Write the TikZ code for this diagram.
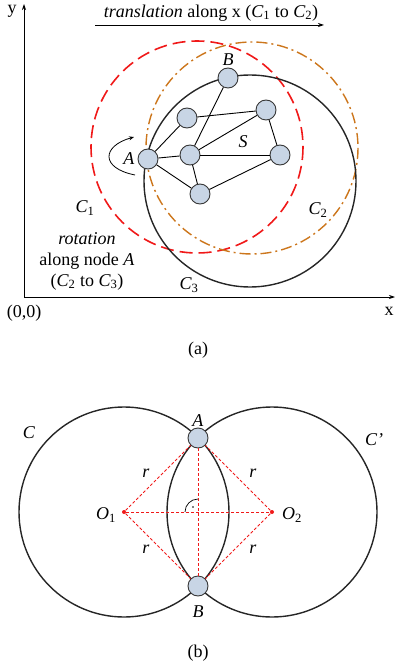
\documentclass[tikz,border=0pt]{standalone}
\usepackage{fontspec}
\setmainfont{Liberation Serif}
\usetikzlibrary{positioning,arrows.meta}
\definecolor{NodeFill}{RGB}{200,213,229}
\definecolor{NodeLine}{RGB}{55,55,55}
\definecolor{RimRed}{RGB}{240,25,25}
\definecolor{RimOrange}{RGB}{204,118,28}
\tikzset{
  vertex/.style={circle,draw=NodeLine,fill=NodeFill,minimum size=20pt,
    inner sep=0pt,line width=0.9pt},
  link/.style={line width=0.9pt,draw=black},
  rim/.style={line width=1.4pt,draw=black!85},
  redrim/.style={line width=1.6pt,draw=RimRed,dash pattern=on 13pt off 6pt},
  orangerim/.style={line width=1.4pt,draw=RimOrange,
    dash pattern=on 11pt off 4pt on 2pt off 4pt},
  axis/.style={-{Stealth[length=6pt,width=4pt]},line width=0.8pt},
  guide/.style={draw=RimRed,dash pattern=on 3pt off 2pt,line width=0.8pt},
  centre/.style={circle,fill=RimRed,minimum size=4pt,inner sep=0pt},
  lbl/.style={inner sep=0pt}
}

\begin{document}
\begin{tikzpicture}[x=1pt,y=-1pt,font=\fontsize{18}{21}\selectfont]
  \useasboundingbox (0,0) rectangle (396,668);

  % (a) axes and the three circles
  \coordinate (origin) at (24,297);
  \coordinate (ytip) at (24,4);
  \coordinate (xtip) at (395,297);
  \draw[axis] (origin) -- (ytip);
  \draw[axis] (origin) -- (xtip);
  \node[lbl] (ylab) at (12,11) {y};
  \node[lbl] (xlab) at (389,311) {x};
  \node[lbl] (olab) at (24,313) {(0,0)};

  \coordinate (trS) at (95,25);
  \coordinate (trE) at (324,25);
  \draw[axis] (trS) -- (trE);
  \node[lbl] (trlab) at (211,13) {\textit{translation} along x (\textit{C}\textsubscript{1} to \textit{C}\textsubscript{2})};

  \coordinate (c1) at (197,147);
  \coordinate (c2) at (252,148);
  \coordinate (c3) at (250,181);
  \draw[redrim] (c1) circle[radius=106];
  \draw[orangerim] (c2) circle[radius=106];
  \draw[rim] (c3) circle[radius=106];

  \node[vertex] (A) at (148,159) {};
  \node[vertex] (B) at (228,78) {};
  \node[vertex] (ul) at (187,118) {};
  \node[vertex] (ur) at (266,110) {};
  \node[vertex] (mid) at (190,155) {};
  \node[vertex] (rt) at (280,155) {};
  \node[vertex] (bot) at (200,194) {};
  \draw[link] (A) -- (ul);
  \draw[link] (A) -- (mid);
  \draw[link] (A) -- (bot);
  \draw[link] (B) -- (mid);
  \draw[link] (ul) -- (ur);
  \draw[link] (ur) -- (mid);
  \draw[link] (ur) -- (rt);
  \draw[link] (mid) -- (rt);
  \draw[link] (mid) -- (bot);
  \draw[link] (bot) -- (rt);

  \node[lbl,above=2pt of B] (labB) {\textit{B}};
  \node[lbl,left=3pt of A] (labA) {\textit{A}};
  \node[lbl] (labS) at (243,142) {\textit{S}};
  \node[lbl] (labC1) at (85,208) {\textit{C}\textsubscript{1}};
  \node[lbl] (labC2) at (318,210) {\textit{C}\textsubscript{2}};
  \node[lbl] (labC3) at (189,285) {\textit{C}\textsubscript{3}};

  \coordinate (rotS) at (135,175);
  \coordinate (rotE) at (134,137);
  \draw[-{Stealth[length=5pt,width=4pt]},line width=0.8pt]
    (rotS) .. controls (100,168) and (102,146) .. (rotE);
  \node[lbl,align=center] (rotlab) at (87,261)
    {\textit{rotation}\\along node \textit{A}\\(\textit{C}\textsubscript{2} to \textit{C}\textsubscript{3})};

  \node[lbl] (capa) at (198,350) {(a)};

  % (b) two circles through A and B
  \node[centre] (O1) at (124,512) {};
  \node[centre] (O2) at (272,512) {};
  \draw[rim] (O1) circle[radius=105];
  \draw[rim] (O2) circle[radius=105];
  \node[vertex] (PA) at (198,438) {};
  \node[vertex] (PB) at (198,586) {};
  \draw[guide] (O1) -- (PA);
  \draw[guide] (O1) -- (PB);
  \draw[guide] (O2) -- (PA);
  \draw[guide] (O2) -- (PB);
  \draw[guide] (O1) -- (O2);
  \draw[guide] (PA) -- (PB);
  \coordinate (cross) at (198,512);
  \draw[line width=0.7pt] (cross) ++(-13,0) arc[start angle=180,end angle=270,radius=13];
  \fill (193,507) circle[radius=0.9];

  \node[lbl,above=1pt of PA] (labPA) {\textit{A}};
  \node[lbl,below=9pt of PB] (labPB) {\textit{B}};
  \node[lbl] (labC) at (29,433) {\textit{C}};
  \node[lbl] (labCp) at (374,440) {\textit{C'}};
  \node[lbl] (labO1) at (106,515) {\textit{O}\textsubscript{1}};
  \node[lbl] (labO2) at (292,515) {\textit{O}\textsubscript{2}};
  \node[lbl] (r1) at (146,473) {\textit{r}};
  \node[lbl] (r2) at (253,473) {\textit{r}};
  \node[lbl] (r3) at (146,549) {\textit{r}};
  \node[lbl] (r4) at (253,549) {\textit{r}};

  \node[lbl] (capb) at (198,653) {(b)};
\end{tikzpicture}
\end{document}
